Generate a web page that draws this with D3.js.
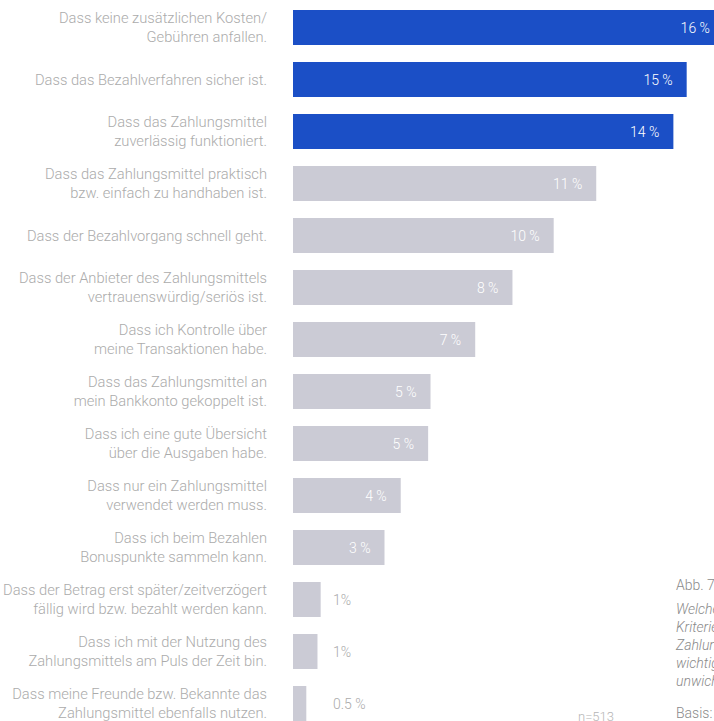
<!DOCTYPE html>
<html>
<head>
<meta charset="utf-8">
<script src="https://cdn.jsdelivr.net/npm/d3@7"></script>
<style>
  html, body { margin: 0; padding: 0; background: #fff; overflow: hidden; }
  svg { display: block; font-family: Roboto, "Noto Sans", sans-serif; }
</style>
</head>
<body>
<svg id="chart" width="714" height="721"></svg>
<script>
// criteria labels (two lines where the source breaks them)
const categories = [
  ["Dass keine zusätzlichen Kosten/", "Gebühren anfallen."],
  ["Dass das Bezahlverfahren sicher ist."],
  ["Dass das Zahlungsmittel", "zuverlässig funktioniert."],
  ["Dass das Zahlungsmittel praktisch", "bzw. einfach zu handhaben ist."],
  ["Dass der Bezahlvorgang schnell geht."],
  ["Dass der Anbieter des Zahlungsmittels", "vertrauenswürdig/seriös ist."],
  ["Dass ich Kontrolle über", "meine Transaktionen habe."],
  ["Dass das Zahlungsmittel an", "mein Bankkonto gekoppelt ist."],
  ["Dass ich eine gute Übersicht", "über die Ausgaben habe."],
  ["Dass nur ein Zahlungsmittel", "verwendet werden muss."],
  ["Dass ich beim Bezahlen", "Bonuspunkte sammeln kann."],
  ["Dass der Betrag erst später/zeitverzögert", "fällig wird bzw. bezahlt werden kann."],
  ["Dass ich mit der Nutzung des", "Zahlungsmittels am Puls der Zeit bin."],
  ["Dass meine Freunde bzw. Bekannte das", "Zahlungsmittel ebenfalls nutzen."]
];
// estimated share in percent (bar lengths)
const values = [16.2, 14.8, 14.3, 11.4, 9.8, 8.25, 6.85, 5.17, 5.08, 4.05, 3.44, 1.04, 0.92, 0.5];
// printed value labels
const valueLabels = ["16 %", "15 %", "14 %", "11 %", "10 %", "8 %", "7 %", "5 %", "5 %", "4 %", "3 %", "1%", "1%", "0.5 %"];
const topThree = 3;

const noteLines = ["Welche Kriterien sind Ihnen", "Kriterien bei der Auswahl", "Zahlungsmittels besonders", "wichtig bzw.", "unwichtig?"];

const svg = d3.select("#chart");
const blue = "#1b4fc6", grey = "#cbcbd5", textGrey = "#ababab";

const step = 52, barH = 35;
const x = d3.scaleLinear().domain([0, 1]).range([293, 293 + 26.6]);
const y = d3.scaleBand().domain(d3.range(categories.length))
  .range([10, 10 + step * (categories.length - 1) + barH])
  .paddingInner((step - barH) / step).paddingOuter(0);

const rows = svg.append("g").selectAll("g").data(categories).join("g");

rows.append("rect")
  .attr("x", x(0))
  .attr("y", (d, i) => y(i))
  .attr("width", (d, i) => x(values[i]) - x(0))
  .attr("height", y.bandwidth())
  .attr("fill", (d, i) => i < topThree ? blue : grey);

// category labels
rows.append("text")
  .attr("text-anchor", "end")
  .attr("fill", textGrey)
  .style("font-size", "14.7px")
  .style("font-weight", 300)
  .each(function (d, i) {
    const cy = y(i) + y.bandwidth() / 2;
    const lh = 18.5;
    const t = d3.select(this);
    d.forEach((line, k) => {
      t.append("tspan")
        .attr("x", 267)
        .attr("y", cy + 5 + (k - (d.length - 1) / 2) * lh)
        .text(line);
    });
  });

// value labels
rows.append("text")
  .attr("x", (d, i) => values[i] >= 2 ? x(values[i]) - 14 : Math.max(x(values[i]) + 12, 333))
  .attr("y", (d, i) => y(i) + y.bandwidth() / 2 + 5)
  .attr("text-anchor", (d, i) => values[i] >= 2 ? "end" : "start")
  .attr("fill", (d, i) => values[i] >= 2 ? "#fff" : textGrey)
  .style("font-size", "14px")
  .style("font-weight", 300)
  .text((d, i) => valueLabels[i]);

// side note (cut off by the page edge)
svg.append("text").attr("x", 676).attr("y", 590)
  .attr("fill", "#8a8a8a").style("font-size", "14px").style("font-weight", 300)
  .text("Abb. 7");
const note = svg.append("text").attr("fill", "#8a8a8a")
  .style("font-size", "14px").style("font-style", "italic").style("font-weight", 300);
noteLines.forEach((line, k) => {
  note.append("tspan").attr("x", 676).attr("y", 614 + k * 18).text(line);
});
svg.append("text").attr("x", 676).attr("y", 718)
  .attr("fill", "#8a8a8a").style("font-size", "14px").style("font-weight", 300)
  .text("Basis: 513 Befragte");
svg.append("text").attr("x", 578).attr("y", 721)
  .attr("fill", "#b5b5b5").style("font-size", "13px").style("font-weight", 300)
  .text("n=513");
</script>
</body>
</html>
